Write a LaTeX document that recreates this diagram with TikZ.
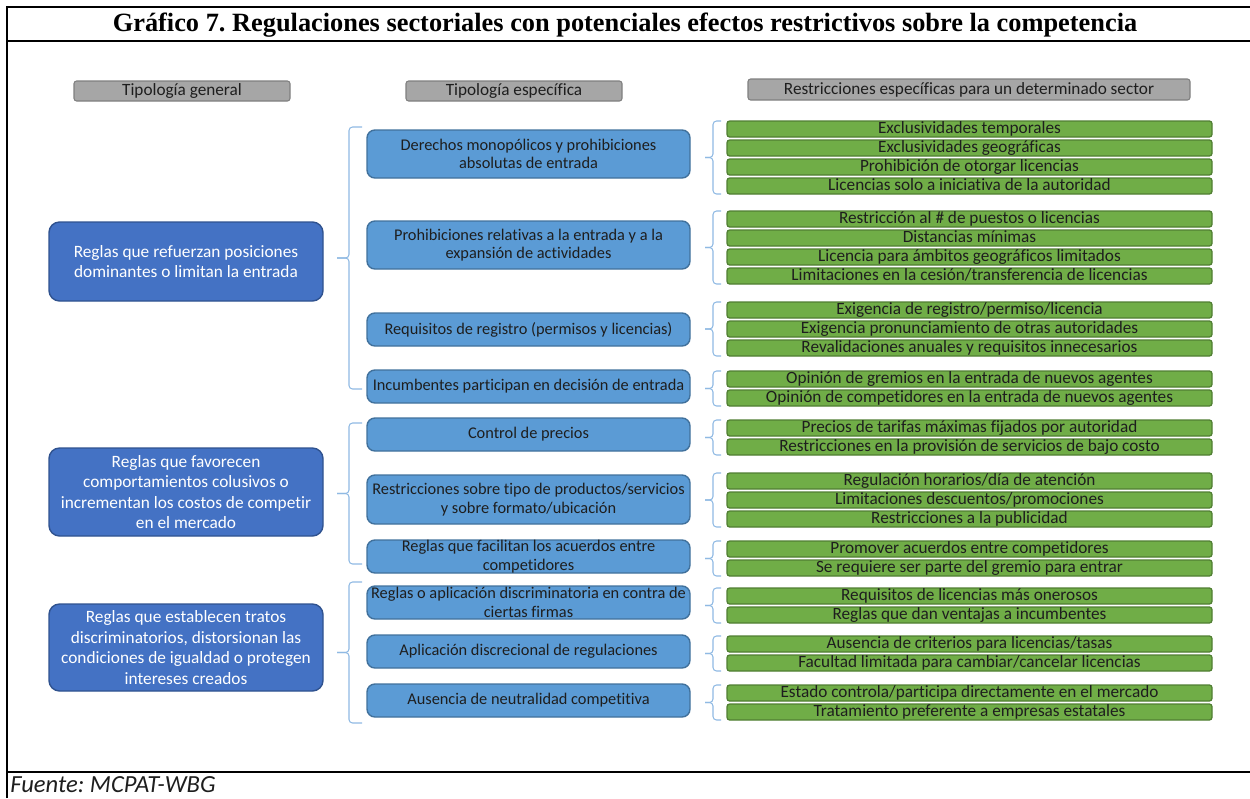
\documentclass[tikz,border=0pt]{standalone}
\usepackage{fontspec}
\setmainfont{Carlito}[Ligatures=NoCommon]
\newfontfamily\titlefont{Liberation Serif}
\usetikzlibrary{calc}
\frenchspacing
\definecolor{dblue}{HTML}{4472C4}
\definecolor{dbluedraw}{HTML}{2F528F}
\definecolor{mblue}{HTML}{5B9BD5}
\definecolor{mbluedraw}{HTML}{41719C}
\definecolor{gfill}{HTML}{70AD47}
\definecolor{gdraw}{HTML}{507E32}
\definecolor{hfill}{HTML}{A6A6A6}
\definecolor{hdraw}{HTML}{7F7F7F}
\definecolor{brcol}{HTML}{8FB9E3}
\definecolor{txt}{HTML}{1E1E1E}
\newcommand{\px}{0.02cm}
\newcommand\gb[3]{\node[gbox] (#1) at (969.5,#2+8) {#3};}
\newcommand\brR[3]{%
  \coordinate (#1t) at (721,#2); \coordinate (#1b) at (721,#3);
  \coordinate (#1m) at (705,{(#2+#3)/2});
  \draw[brc] (#1t) -- (713,#2) -- (713,{(#2+#3)/2}) -- (#1m);
  \draw[brc] (#1m) -- (713,{(#2+#3)/2}) -- (713,#3) -- (#1b);}
\newcommand\brL[3]{%
  \coordinate (#1t) at (362,#2); \coordinate (#1b) at (362,#3);
  \coordinate (#1m) at (337,{(#2+#3)/2});
  \draw[brc] (#1t) -- (349,#2) -- (349,{(#2+#3)/2}) -- (#1m);
  \draw[brc] (#1m) -- (349,{(#2+#3)/2}) -- (349,#3) -- (#1b);}
\begin{document}
\begin{tikzpicture}[x=0.02cm,y=-0.02cm,
  frame/.style={line width=1.2pt,black},
  hdr/.style={draw=hdraw,fill=hfill,rounded corners=1.5pt,line width=0.6pt,text=txt,
    font=\fontsize{9.8}{11}\selectfont,inner sep=0pt},
  lbox/.style={draw=dbluedraw,fill=dblue,rounded corners=6pt,line width=0.8pt,text=white,
    font=\fontsize{9.85}{11.7}\selectfont,align=center,inner sep=0pt,
    minimum width=274*\px},
  mbox/.style={draw=mbluedraw,fill=mblue,rounded corners=4.5pt,line width=0.8pt,text=txt,
    font=\fontsize{9.3}{10.6}\selectfont,align=center,inner sep=0pt,
    minimum width=323*\px},
  gbox/.style={draw=gdraw,fill=gfill,rounded corners=1.5pt,line width=0.7pt,text=txt,
    font=\fontsize{9.8}{10}\selectfont,inner sep=0pt,text height=6.6pt,text depth=1.9pt,
    minimum width=485*\px,minimum height=16*\px},
  brc/.style={draw=brcol,line width=0.6pt,rounded corners=2pt}]
\useasboundingbox (0,0) rectangle (1250,798);
% frame
\draw[frame] (7,798) -- (7,7) -- (1250,7);
\draw[frame] (7,41) -- (1250,41);
\draw[frame] (7,772) -- (1250,772);
\node[font=\titlefont\bfseries\fontsize{15}{17}\selectfont] (title) at (625,25)
  {Gráfico 7. Regulaciones sectoriales con potenciales efectos restrictivos sobre la competencia};
\node[anchor=base west,inner sep=0pt,font=\itshape\fontsize{14}{16}\selectfont,text=txt] (src) at (10,792) {Fuente: MCPAT-WBG};
% headers
\node[hdr,minimum width=216*\px,minimum height=20*\px] (h1) at (182,91) {Tipología general};
\node[hdr,minimum width=216*\px,minimum height=20*\px] (h2) at (514,91) {Tipología específica};
\node[hdr,minimum width=442*\px,minimum height=21*\px] (h3) at (969,89.5) {Restricciones específicas para un determinado sector};
% left boxes
\node[lbox,minimum height=79*\px] (l1) at (186,261.5) {Reglas que refuerzan posiciones\\dominantes o limitan la entrada};
\node[lbox,minimum height=88*\px] (l2) at (186,492) {Reglas que favorecen\\comportamientos colusivos o\\incrementan los costos de competir\\en el mercado};
\node[lbox,minimum height=87*\px] (l3) at (186,647.5) {Reglas que establecen tratos\\discriminatorios, distorsionan las\\condiciones de igualdad o protegen\\intereses creados};
% middle boxes
\node[mbox,minimum height=48*\px] (m1) at (528.5,154) {Derechos monopólicos y prohibiciones\\absolutas de entrada};
\node[mbox,minimum height=48*\px] (m2) at (528.5,245) {Prohibiciones relativas a la entrada y a la\\expansión de actividades};
\node[mbox,minimum height=33*\px] (m3) at (528.5,329.5) {Requisitos de registro (permisos y licencias)};
\node[mbox,minimum height=33*\px] (m4) at (528.5,386.5) {Incumbentes participan en decisión de entrada};
\node[mbox,minimum height=33*\px] (m5) at (528.5,434.5) {Control de precios};
\node[mbox,minimum height=49*\px] (m6) at (528.5,499.5) {Restricciones sobre tipo de productos/servicios\\y sobre formato/ubicación};
\node[mbox,minimum height=33*\px] (m7) at (528.5,556.5) {Reglas que facilitan los acuerdos entre\\competidores};
\node[mbox,minimum height=33*\px] (m8) at (528.5,602.5) {Reglas o aplicación discriminatoria en contra de\\ciertas firmas};
\node[mbox,minimum height=33*\px] (m9) at (528.5,651.5) {Aplicación discrecional de regulaciones};
\node[mbox,minimum height=33*\px] (m10) at (528.5,700.5) {Ausencia de neutralidad competitiva};
% green boxes
\gb{g1a}{121}{Exclusividades temporales}
\gb{g1b}{140}{Exclusividades geográficas}
\gb{g1c}{159}{Prohibición de otorgar licencias}
\gb{g1d}{178}{Licencias solo a iniciativa de la autoridad}
\gb{g2a}{211}{Restricción al \# de puestos o licencias}
\gb{g2b}{230}{Distancias mínimas}
\gb{g2c}{249}{Licencia para ámbitos geográficos limitados}
\gb{g2d}{268}{Limitaciones en la cesión/transferencia de licencias}
\gb{g3a}{302}{Exigencia de registro/permiso/licencia}
\gb{g3b}{321}{Exigencia pronunciamiento de otras autoridades}
\gb{g3c}{340}{Revalidaciones anuales y requisitos innecesarios}
\gb{g4a}{371}{Opinión de gremios en la entrada de nuevos agentes}
\gb{g4b}{390}{Opinión de competidores en la entrada de nuevos agentes}
\gb{g5a}{420}{Precios de tarifas máximas fijados por autoridad}
\gb{g5b}{439}{Restricciones en la provisión de servicios de bajo costo}
\gb{g6a}{473}{Regulación horarios/día de atención}
\gb{g6b}{492}{Limitaciones descuentos/promociones}
\gb{g6c}{511}{Restricciones a la publicidad}
\gb{g7a}{541}{Promover acuerdos entre competidores}
\gb{g7b}{560}{Se requiere ser parte del gremio para entrar}
\gb{g8a}{588}{Requisitos de licencias más onerosos}
\gb{g8b}{607}{Reglas que dan ventajas a incumbentes}
\gb{g9a}{636}{Ausencia de criterios para licencias/tasas}
\gb{g9b}{655}{Facultad limitada para cambiar/cancelar licencias}
\gb{g10a}{685}{Estado controla/participa directamente en el mercado}
\gb{g10b}{704}{Tratamiento preferente a empresas estatales}
% right braces
\brR{r1}{121}{194}
\brR{r2}{211}{284}
\brR{r3}{302}{356}
\brR{r4}{371}{406}
\brR{r5}{420}{455}
\brR{r6}{473}{527}
\brR{r7}{541}{576}
\brR{r8}{588}{623}
\brR{r9}{636}{671}
\brR{r10}{685}{720}
% left braces
\brL{b1}{127}{389}
\brL{b2}{423}{564}
\brL{b3}{582}{723}
\end{tikzpicture}
\end{document}
